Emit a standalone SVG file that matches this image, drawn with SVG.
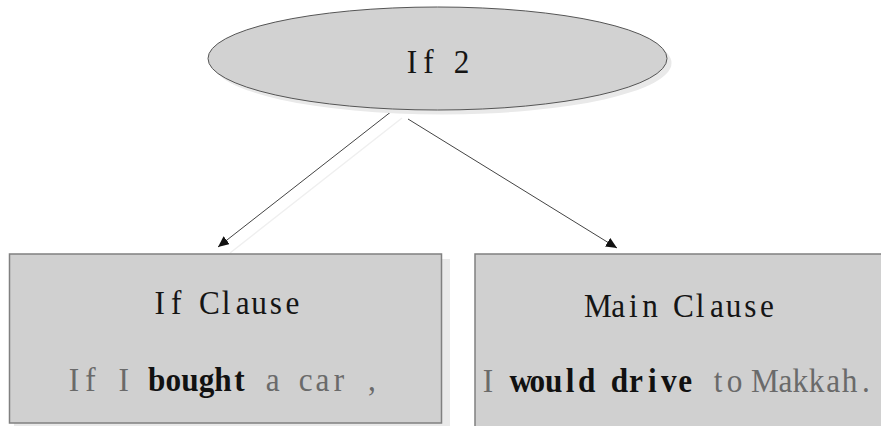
<svg xmlns="http://www.w3.org/2000/svg" width="881" height="426" viewBox="0 0 881 426">
  <style>
    .shadow { fill: #e9e9e9; stroke: none; }
    .ellipse { fill: #d2d2d2; stroke: #555555; stroke-width: 1; }
    .box { fill: #d0d0d0; stroke: #808080; stroke-width: 1.5; }
    .label { font-family: "Liberation Serif", "DejaVu Serif", serif; font-size: 34px; fill: #151515; text-anchor: middle; }
    .dim { fill: #6a6a6a; }
    .strong { fill: #111111; font-weight: bold; }
    .edge { stroke: #444444; stroke-width: 1; fill: none; marker-end: url(#arrow); }
    .edge-shadow { stroke: #efefef; stroke-width: 1.5; fill: none; }
  </style>
  <defs>
    <marker id="arrow" markerUnits="userSpaceOnUse" markerWidth="12" markerHeight="10" refX="11" refY="5" orient="auto">
      <path d="M0,0 L11,5 L0,10 Z" fill="#111111"/>
    </marker>
  </defs>

  <rect width="881" height="426" fill="#ffffff"/>

  <!-- connectors -->
  <g id="connectors">
    <line class="edge-shadow" x1="402" y1="118" x2="230" y2="253"/>
    <line class="edge" x1="392" y1="111" x2="218" y2="247"/>
    <line class="edge" x1="408" y1="119" x2="617" y2="248"/>
  </g>

  <!-- root node; labels use fixed-pitch cells, slightly condensed horizontally -->
  <g id="node-if2">
    <ellipse class="shadow" cx="442" cy="63" rx="229.5" ry="51.5"/>
    <ellipse class="ellipse" cx="437.5" cy="58.5" rx="229.5" ry="51.5"/>
    <g transform="translate(436.75,0) scale(0.92,1)">
      <text class="label" x="-26.9 -8.97 8.97 26.9" y="73">If 2</text>
    </g>
  </g>

  <!-- if clause -->
  <g id="node-if-clause">
    <rect class="shadow" x="14" y="259" width="436" height="170"/>
    <rect class="box" x="9.5" y="254" width="432" height="169"/>
    <g transform="translate(226,0) scale(0.92,1)">
      <text class="label" x="-72.17 -54.13 -36.09 -18.04 0 18.04 36.09 54.13 72.17" y="314">If Clause</text>
    </g>
    <g transform="translate(223,0) scale(0.92,1)">
      <text class="label" x="-162 -144 -126 -108 -90 -72 -54 -36 -18 0 18 36 54 72 90 108 126 144 162" y="391"><tspan class="dim">If I </tspan><tspan class="strong">bought</tspan><tspan class="dim"> a car ,</tspan></text>
    </g>
  </g>

  <!-- main clause -->
  <g id="node-main-clause">
    <rect class="box" x="475" y="254" width="420" height="190"/>
    <g transform="translate(683.5,0) scale(0.92,1)">
      <text class="label" x="-93 -71 -54.46 -36.3 -18.15 0 18.15 36.3 54.46 72.61 90.76" y="317">Main Clause</text>
    </g>
    <g transform="translate(677,0) scale(0.92,1)">
      <text class="label" x="-205.39 -187.53 -169.67 -151.81 -133.95 -116.09 -98.23 -80.37 -62.51 -44.65 -26.79 -8.93 8.93 26.79 44.65 62.51 80.37 95.5 118 133.95 151.81 169.67 187.53 205.39" y="392"><tspan class="dim">I </tspan><tspan class="strong">would drive</tspan><tspan class="dim"> to Makkah.</tspan></text>
    </g>
  </g>
</svg>
